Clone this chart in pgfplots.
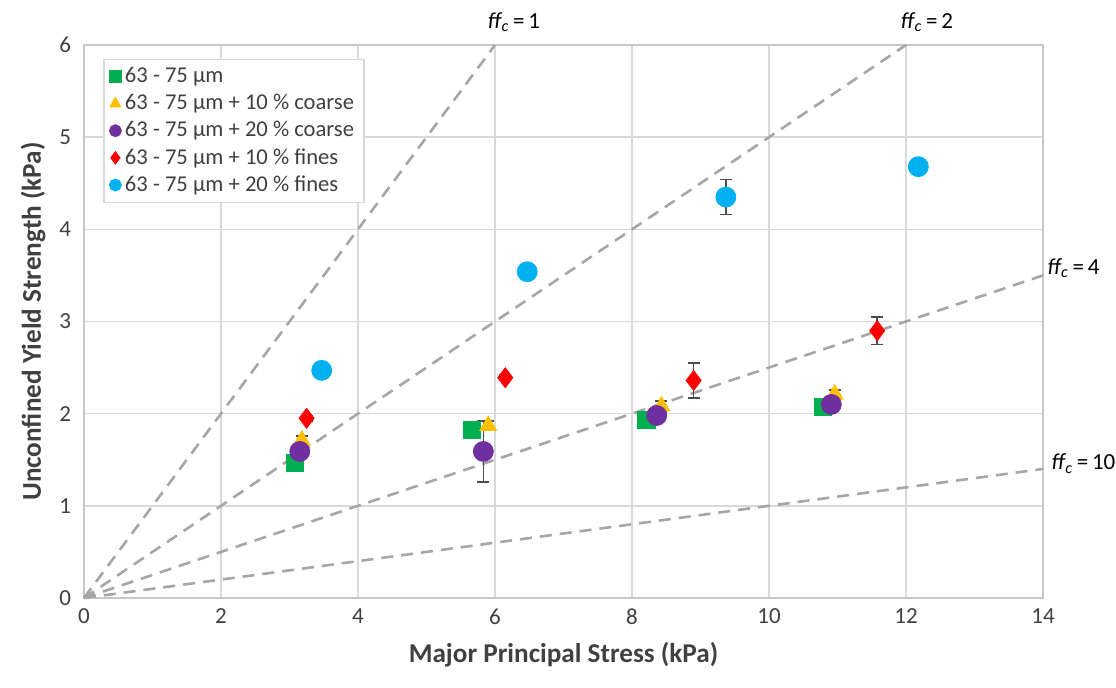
\documentclass[border=0pt]{standalone}
\usepackage{fontspec}
\setmainfont{Carlito}
\usepackage{pgfplots}
\pgfplotsset{compat=1.18}
\definecolor{cGreen}{HTML}{00B050}
\definecolor{cYellow}{HTML}{FFC000}
\definecolor{cPurple}{HTML}{7030A0}
\definecolor{cRed}{HTML}{FF0000}
\definecolor{cBlue}{HTML}{00B0F0}
\definecolor{gridgray}{HTML}{D9D9D9}
\definecolor{dashgray}{HTML}{A6A6A6}
\definecolor{txt}{HTML}{404040}

% x  y  err
\pgfplotstableread{
x y e
3.08 1.47 0.04
5.66 1.82 0.03
8.21 1.93 0.03
10.79 2.07 0.03
}\green
\pgfplotstableread{
x y e
3.18 1.71 0.05
5.90 1.87 0.05
8.43 2.08 0.06
10.96 2.21 0.05
}\yellow
\pgfplotstableread{
x y e
3.15 1.59 0.05
5.83 1.59 0.33
8.36 1.98 0.05
10.91 2.10 0.05
}\purple
\pgfplotstableread{
x y e
3.25 1.95 0.03
6.15 2.39 0.03
8.90 2.36 0.19
11.58 2.90 0.15
}\red
\pgfplotstableread{
x y e
3.47 2.47 0.08
6.47 3.54 0.03
9.37 4.35 0.19
12.18 4.68 0.03
}\blue

\newcommand{\ffc}[1]{\textit{ff}\textsubscript{\kern-0.5pt\textit{c}}\,=\,#1}

\begin{document}
\begin{tikzpicture}
\begin{axis}[
  at={(0,0)},anchor=south west,
  scale only axis,width=479.5pt,height=276.5pt,
  xmin=0,xmax=14,ymin=0,ymax=6,
  xtick={0,2,...,14},ytick={0,1,...,6},
  grid=major,grid style={gridgray,line width=0.8pt},
  axis line style={gridgray!80!gray,line width=0.8pt},
  major tick length=0pt,
  clip=false,
  tick label style={font=\fontsize{11.5}{13}\selectfont,color=txt},
  /pgf/number format/assume math mode=true,
  xticklabel style={yshift=-2pt},
  yticklabel style={xshift=-3pt},
  xlabel={\textbf{Major Principal Stress (kPa)}},
  ylabel={\textbf{Unconfined Yield Strength (kPa)}},
  label style={font=\fontsize{13.6}{15}\selectfont,color=txt},
  xlabel style={yshift=-2pt},
  ylabel style={yshift=0pt},
  legend cell align=left,
  legend style={at={(0.0198,0.975)},anchor=north west,
    draw=gridgray,line width=0.8pt,font=\fontsize{11.3}{12}\selectfont,text=txt,
    row sep=0.3pt,inner xsep=3pt,inner ysep=2pt},
  legend image code/.code={\draw[#1,mark size=2.8pt] plot coordinates {(0.22cm,0cm)};},
  error bars/error bar style={black!70,line width=0.8pt},
  error bars/error mark options={black!70,mark size=3pt,line width=0.8pt,rotate=90},
]
% ff_c lines
\addplot[dashgray,line width=1.3pt,dash pattern=on 6pt off 4pt,forget plot] coordinates {(0,0) (6,6)};
\addplot[dashgray,line width=1.3pt,dash pattern=on 6pt off 4pt,forget plot] coordinates {(0,0) (12,6)};
\addplot[dashgray,line width=1.3pt,dash pattern=on 6pt off 4pt,forget plot] coordinates {(0,0) (14,3.5)};
\addplot[dashgray,line width=1.3pt,dash pattern=on 6pt off 4pt,forget plot] coordinates {(0,0) (14,1.4)};
% data
\addplot[only marks,mark=square*,mark size=4.3pt,mark options={fill=cGreen,draw=cGreen},
  error bars/.cd,y dir=both,y explicit] table[x=x,y=y,y error=e]{\green};
\addlegendentry{63 - 75 µm}
\addplot[only marks,mark=triangle*,mark size=4.8pt,mark options={fill=cYellow,draw=cYellow},
  error bars/.cd,y dir=both,y explicit] table[x=x,y=y,y error=e]{\yellow};
\addlegendentry{63 - 75 µm + 10 \% coarse}
\addplot[only marks,mark=*,mark size=5pt,mark options={fill=cPurple,draw=cPurple},
  error bars/.cd,y dir=both,y explicit] table[x=x,y=y,y error=e]{\purple};
\addlegendentry{63 - 75 µm + 20 \% coarse}
\addplot[only marks,mark=diamond*,mark size=5pt,mark options={fill=cRed,draw=cRed},
  error bars/.cd,y dir=both,y explicit] table[x=x,y=y,y error=e]{\red};
\addlegendentry{63 - 75 µm + 10 \% fines}
\addplot[only marks,mark=*,mark size=5pt,mark options={fill=cBlue,draw=cBlue},
  error bars/.cd,y dir=both,y explicit] table[x=x,y=y,y error=e]{\blue};
\addlegendentry{63 - 75 µm + 20 \% fines}
% labels
\node[anchor=west,font=\fontsize{11.5}{12}\selectfont,text=black] at (axis cs:5.79,6.25) {\ffc{1}};
\node[anchor=west,font=\fontsize{11.5}{12}\selectfont,text=black] at (axis cs:11.82,6.25) {\ffc{2}};
\node[anchor=west,font=\fontsize{11.5}{12}\selectfont,text=black] at (axis cs:13.96,3.58) {\ffc{4}};
\node[anchor=west,font=\fontsize{11.5}{12}\selectfont,text=black] at (axis cs:14.02,1.46) {\ffc{10}};
\end{axis}
\pgfresetboundingbox
\path (-42pt,-44.5pt) rectangle (516pt,299pt);
\end{tikzpicture}
\end{document}
